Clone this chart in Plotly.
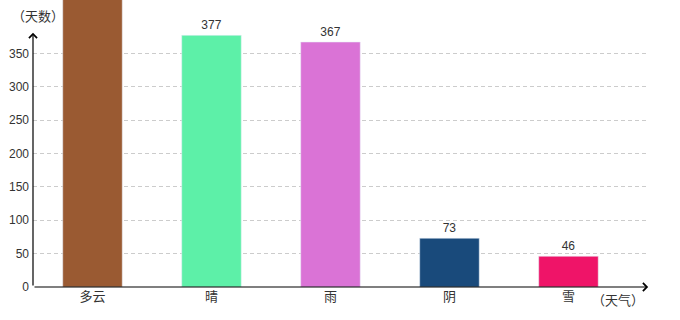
import plotly.graph_objects as go

categories = ["多云", "晴", "雨", "阴", "雪"]
values = [520, 377, 367, 73, 46]
colors = ["#9A5A32", "#5DF0A8", "#DA73D6", "#194A7B", "#EF1468"]
y_ticks = [0, 50, 100, 150, 200, 250, 300, 350]

Y_MAX = 430
X_RANGE = [-0.5, 4.66]
FONT = "Liberation Sans, Noto Sans CJK SC, sans-serif"
CJK = "Noto Sans CJK SC, sans-serif"

labels = [str(v) if v < Y_MAX else "" for v in values]

fig = go.Figure(go.Bar(
    x=categories, y=values, marker_color=colors, width=0.5,
    text=labels, textposition="outside", cliponaxis=True,
    textfont=dict(size=12, color="#333", family=FONT),
))

fig.update_layout(
    width=680, height=320,
    margin=dict(l=33, r=33, t=0, b=33),
    paper_bgcolor="white", plot_bgcolor="white",
    showlegend=False,
    font=dict(family=FONT, color="#333"),
)
fig.update_xaxes(
    range=X_RANGE, showline=False, showgrid=False, zeroline=False,
    ticks="", tickfont=dict(size=13, color="#333", family=CJK), ticklabelstandoff=0,
)
fig.update_yaxes(
    range=[0, Y_MAX], tickvals=y_ticks, showline=False, zeroline=False,
    showgrid=True, gridcolor="#cccccc", griddash="4px,3px", gridwidth=1,
    tickfont=dict(size=12, color="#333"), ticks="", ticklabelstandoff=3,
)

# axis arrows
fig.add_annotation(x=-0.5, y=381, ax=-0.5, ay=0, xref="x", yref="y",
                   axref="x", ayref="y", showarrow=True, arrowhead=4,
                   arrowsize=1.3, arrowwidth=1.2, arrowcolor="black", text="")
fig.add_annotation(x=4.67, y=0, ax=-0.5, ay=0, xref="x", yref="y",
                   axref="x", ayref="y", showarrow=True, arrowhead=4,
                   arrowsize=1.3, arrowwidth=1.2, arrowcolor="black", text="")

# axis names
fig.add_annotation(text="（天数）", xref="x domain", yref="y domain",
                   x=(38 - 33) / 614, y=(287 - 15) / 287,
                   xanchor="center", yanchor="middle",
                   showarrow=False, font=dict(size=13, color="#333", family=CJK))
fig.add_annotation(text="（天气）", xref="x domain", yref="y domain",
                   x=(618 - 33) / 614, y=-(299 - 287) / 287,
                   xanchor="center", yanchor="middle",
                   showarrow=False, font=dict(size=13, color="#333", family=CJK))

fig.write_html("out.html")
